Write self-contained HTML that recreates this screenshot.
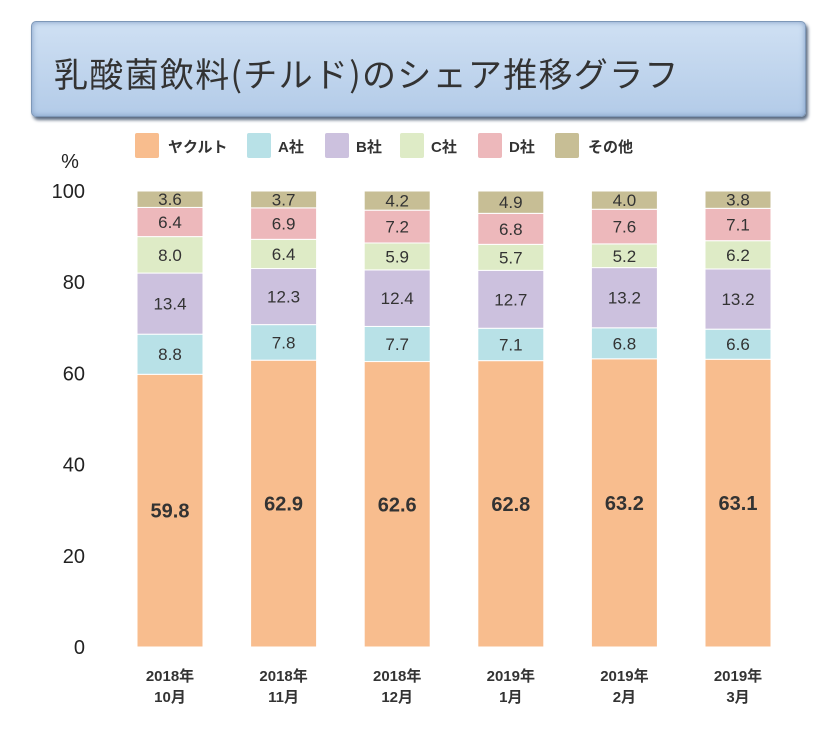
<!DOCTYPE html>
<html><head><meta charset="utf-8"><style>
body{margin:0;background:#fff;width:836px;height:730px;overflow:hidden;font-family:"Liberation Sans","Noto Sans CJK JP",sans-serif}
#title{position:absolute;left:31px;top:21px;width:775px;height:96px;border-radius:5px;background:linear-gradient(#cfe0f3,#b3cbe8);border:1px solid #7e98b8;box-shadow:2px 3px 3px #5a6a80, inset 0 0 6px #7f9cc4;box-sizing:border-box}
#title span{position:absolute;left:22px;top:26px;font-size:34px;color:#333;letter-spacing:1.3px;font-family:"Noto Sans CJK JP",sans-serif}
</style></head><body>
<div id="title"><span>乳酸菌飲料<span style="position:static;font-size:34px">(</span>チルド<span style="position:static;font-size:34px">)</span>のシェア推移グラフ</span></div>
<svg id="chart" width="836" height="730" style="position:absolute;left:0;top:0"></svg>
<script>
const categories=[["2018年","10月"],["2018年","11月"],["2018年","12月"],["2019年","1月"],["2019年","2月"],["2019年","3月"]];
const seriesNames=["ヤクルト","A社","B社","C社","D社","その他"];
const yakult=[59.8,62.9,62.6,62.8,63.2,63.1];
const companyA=[8.8,7.8,7.7,7.1,6.8,6.6];
const companyB=[13.4,12.3,12.4,12.7,13.2,13.2];
const companyC=[8.0,6.4,5.9,5.7,5.2,6.2];
const companyD=[6.4,6.9,7.2,6.8,7.6,7.1];
const others=[3.6,3.7,4.2,4.9,4.0,3.8];
const yTicks=[0,20,40,60,80,100];
const series=[yakult,companyA,companyB,companyC,companyD,others];
const colors=["#f8bd8e","#b8e1e7","#ccc1de","#deebc6","#edb8bb","#c7be95"];
const slugs=["yakult","company-a","company-b","company-c","company-d","others"];
const svg=document.getElementById('chart');const NS="http://www.w3.org/2000/svg";
const y0=647,y100=191;
function y(v){return y0-(y0-y100)*v/100;}
function xc(i){return 170+i*113.6;}
const bw=66;
function mk(t,a,txt){const e=document.createElementNS(NS,t);for(const k in a)e.setAttribute(k,a[k]);if(txt!==undefined)e.textContent=txt;svg.appendChild(e);return e;}
let t=mk('text',{x:70,y:168,'font-size':20,fill:'#222','text-anchor':'middle'},'%');


yTicks.forEach(v=>{const e=mk('text',{x:85,y:y(v)+7,'font-size':20,fill:'#222','text-anchor':'end'},String(v));

});
const legX=[[135,168],[247,278],[325,356],[400,431],[478,509],[555,588]];
seriesNames.forEach((n,i)=>{const r=mk('rect',{x:legX[i][0],y:133,width:24,height:25,fill:colors[i],rx:2});


const e=mk('text',{x:legX[i][1],y:152,'font-size':15,'font-weight':'bold',fill:'#333'},n);

});
categories.forEach((c,i)=>{let acc=0;
series.forEach((s,k)=>{const v=s[i];const top=y(acc+v),bot=y(acc);
const r=mk('rect',{x:xc(i)-bw/2,y:top,width:bw,height:bot-top,fill:colors[k],stroke:'#fff','stroke-width':1});


const big=k===0;
const e=mk('text',{x:xc(i),y:(top+bot)/2+(big?7:6),'font-size':big?20:17,'font-weight':big?'bold':'normal',fill:'#333','text-anchor':'middle'},v.toFixed(1));


acc+=v;});
c.forEach((l,j)=>{const e=mk('text',{x:xc(i),y:681+j*21,'font-size':15,'font-weight':'bold',fill:'#333','text-anchor':'middle'},l);

});
});
</script>
</body></html>
